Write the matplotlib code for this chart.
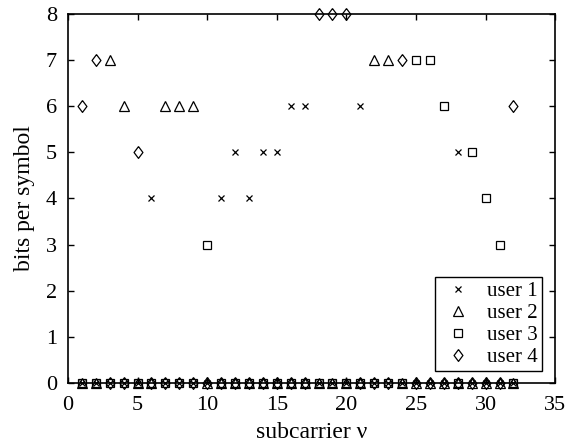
import matplotlib
matplotlib.use("Agg")
import matplotlib.pyplot as plt
import numpy as np

plt.rcParams['font.family'] = ['Liberation Serif', 'DejaVu Serif']
plt.rcParams['mathtext.fontset'] = 'stix'

subcarriers = list(range(1, 33))
user1 = [0,0,0,0,0,4,0,0,0,0,4,5,4,5,5,6,6,0,0,0,6,0,0,0,0,0,0,5,0,0,0,0]
user2 = [0,0,7,6,0,0,6,6,6,0,0,0,0,0,0,0,0,0,0,0,0,7,7,0,0,0,0,0,0,0,0,0]
user3 = [0,0,0,0,0,0,0,0,0,3,0,0,0,0,0,0,0,0,0,0,0,0,0,0,7,7,6,0,5,4,3,0]
user4 = [6,7,0,0,5,0,0,0,0,0,0,0,0,0,0,0,0,8,8,8,0,0,0,7,0,0,0,0,0,0,0,6]
labels = ['user 1', 'user 2', 'user 3', 'user 4']

diamond = [(0, 1), (0.75, 0), (0, -1), (-0.75, 0), (0, 1)]

fig = plt.figure(figsize=(5.66, 4.46), dpi=100)
ax = fig.add_axes([0.120, 0.141, 0.861, 0.828])

common = dict(linestyle='none', color='black', clip_on=False, zorder=3)
ax.plot(subcarriers, user1, marker='x', ms=4, mew=0.9, label=labels[0], **common)
ax.plot(subcarriers, user2, marker='^', ms=6.5, mew=0.9, mfc='none', label=labels[1], **common)
ax.plot(subcarriers, user3, marker='s', ms=5.5, mew=0.9, mfc='none', label=labels[2], **common)
ax.plot(subcarriers, user4, marker=diamond, ms=8.5, mew=0.9, mfc='none', label=labels[3], **common)

ax.set_xlim(0, 35)
ax.set_ylim(0, 8)
ax.set_xticks(range(0, 36, 5))
ax.set_yticks(range(0, 9))
ax.tick_params(direction='in', top=True, right=True, labelsize=16, length=4, width=1)
ax.tick_params(axis='x', pad=9)
ax.tick_params(axis='y', pad=8)
for s in ax.spines.values():
    s.set_linewidth(1.2)

ax.set_xlabel('subcarrier ν', fontsize=17, labelpad=5)
ax.set_ylabel('bits per symbol', fontsize=17, labelpad=8)

leg = ax.legend(loc='lower right', bbox_to_anchor=(0.973, 0.032), fontsize=15,
                frameon=True, fancybox=False, edgecolor='black', framealpha=1,
                handlelength=1.8, handletextpad=0.5, borderpad=0.2, labelspacing=0.12,
                borderaxespad=0)
leg.get_frame().set_linewidth(1.0)

fig.savefig('out.png', dpi=100)
